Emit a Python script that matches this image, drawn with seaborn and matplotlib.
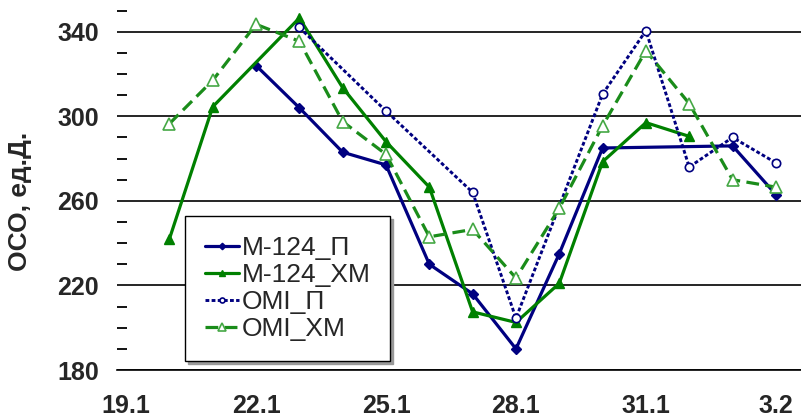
import pandas as pd
import matplotlib
matplotlib.use("Agg")
import matplotlib.pyplot as plt
from matplotlib.ticker import FixedLocator, MultipleLocator
import seaborn as sns

# дни: 20 = 20.1 ... 31 = 31.1, 32 = 1.2, 33 = 2.2, 34 = 3.2
days = list(range(20, 35))
m124_p = [None, None, 324, 304, 283, 277, 230, 216, 190, 235, 285, None, None, 286, 263]
m124_xm = [242, 304.5, None, 346.5, 313.5, 288, 266.5, 207.5, 202.5, 221, 278.5, 297, 290.5, None, None]
omi_p = [None, None, None, 342, None, 302.5, None, 264, 204.5, None, 310.5, 340.5, 276, 290, 278]
omi_xm = [296.5, 317, 343.5, 335.5, 297.5, 282, 243, 246.5, 223.5, 256.5, 295.5, 331, 306, 270, 266.5]

tick_days = [19, 22, 25, 28, 31, 34]
tick_labels = ['19.1', '22.1', '25.1', '28.1', '31.1', '3.2']

series = {
    'М-124_П': m124_p,
    'М-124_ХМ': m124_xm,
    'OMI_П': omi_p,
    'OMI_ХМ': omi_xm,
}

styles = {
    'М-124_П': dict(color='#000080', linestyle='-', linewidth=2.3, marker='D', markersize=5.5,
                    markerfacecolor='#000080', markeredgecolor='#000080', markeredgewidth=1),
    'М-124_ХМ': dict(color='#008000', linestyle='-', linewidth=2.3, marker='^', markersize=7,
                     markerfacecolor='#008000', markeredgecolor='#008000', markeredgewidth=1),
    'OMI_П': dict(color='#000080', linestyle=(0, (1.3, 0.8)), linewidth=2.1, marker='o', markersize=6,
                  markerfacecolor='white', markeredgecolor='#000080', markeredgewidth=1.2),
    'OMI_ХМ': dict(color='#1a8c1a', linestyle=(0, (4, 2)), linewidth=2.3, marker='^', markersize=9,
                   markerfacecolor='white', markeredgecolor='#45a845', markeredgewidth=1.2),
}

sns.set_style("white")
plt.rcParams['font.family'] = ['Liberation Sans', 'DejaVu Sans']

fig = plt.figure(figsize=(8.01, 4.16), dpi=100)
ax = fig.add_axes([117 / 801, 46 / 416, 684 / 801, 370 / 416])

for name, values in series.items():
    df = pd.DataFrame({'day': days, 'val': values}).dropna()
    sns.lineplot(data=df, x='day', y='val', ax=ax, label=name, errorbar=None, **styles[name])

ax.set_xlim(18.79, 34.58)
ax.set_ylim(180, 355)

# оси
ax.set_xticks(tick_days)
ax.set_xticklabels(tick_labels, fontsize=18, fontweight='bold')
ax.xaxis.set_minor_locator(FixedLocator(days))
ax.xaxis.remove_overlapping_locs = False
ax.tick_params(axis='x', which='major', length=0, pad=17)
ax.tick_params(axis='x', which='minor', length=6, width=1.5, color='black', direction='out')

ax.set_yticks([180, 220, 260, 300, 340])
ax.set_yticklabels(['180', '220', '260', '300', '340'], fontsize=18, fontweight='bold')
ax.yaxis.set_minor_locator(MultipleLocator(10))
ax.tick_params(axis='y', which='major', length=0, pad=13)
ax.tick_params(axis='y', which='minor', length=7, width=1.3, color='black', direction='in', left=True)

ax.grid(axis='y', which='major', color='black', linewidth=1.2)
ax.grid(axis='x', visible=False)
for s in ['top', 'right', 'left']:
    ax.spines[s].set_visible(False)
ax.spines['bottom'].set_color('black')
ax.spines['bottom'].set_linewidth(1.2)

ax.set_xlabel('')
ax.set_ylabel('ОСО, ед.Д.', fontsize=19, fontweight='bold')
ax.yaxis.set_label_coords(-0.124, 0.457)

leg = ax.legend(loc='upper left', bbox_to_anchor=(185 / 801, 1 - 216 / 416),
                bbox_transform=fig.transFigure, borderaxespad=0, fontsize=19,
                frameon=True, fancybox=False, framealpha=1, edgecolor='black',
                shadow={'color': '0.6', 'alpha': 1}, markerscale=0.6,
                handlelength=1.3, handletextpad=0.1, labelspacing=0.12, borderpad=0.75)
leg.get_frame().set_linewidth(1)

fig.savefig('out.png', dpi=100)
